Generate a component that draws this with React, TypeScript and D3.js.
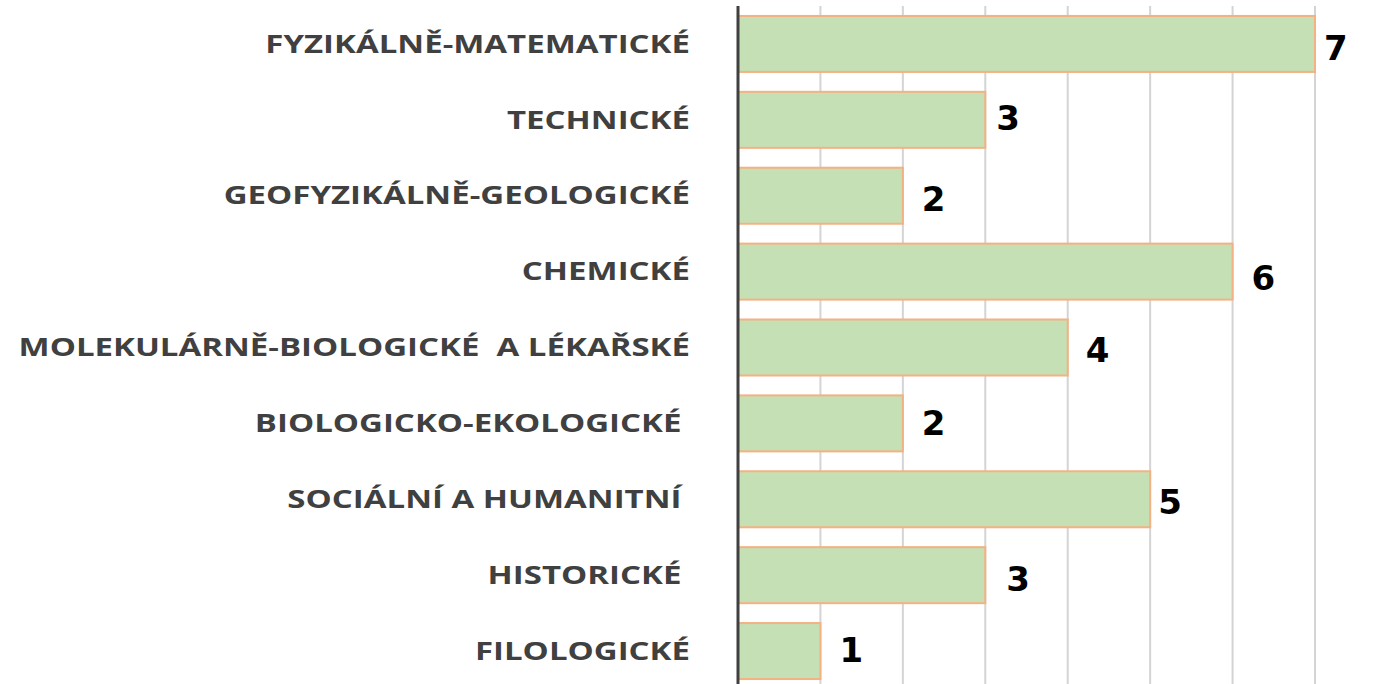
import * as d3 from "d3";

const WIDTH = 1380;
const HEIGHT = 684;

const categories = [
  "FYZIKÁLNĚ-MATEMATICKÉ",
  "TECHNICKÉ",
  "GEOFYZIKÁLNĚ-GEOLOGICKÉ",
  "CHEMICKÉ",
  "MOLEKULÁRNĚ-BIOLOGICKÉ  A LÉKAŘSKÉ",
  "BIOLOGICKO-EKOLOGICKÉ ",
  "SOCIÁLNÍ A HUMANITNÍ ",
  "HISTORICKÉ ",
  "FILOLOGICKÉ",
];
const counts = [7, 3, 2, 6, 4, 2, 5, 3, 1];
const gridTicks = [1, 2, 3, 4, 5, 6, 7];

// hand-placed label nudges in the original (dx, dy)
const labelNudge = [
  [9, 4], [11, -2], [19, 3], [19, 6], [18, 2], [19, -1], [8, 2], [21, 4], [19, -1],
];

const AXIS_X = 738;
const BAR_MAX_X = 1315;
const TOP = 6;
const BOTTOM = 689;
const LABEL_X = 690;
const LABEL_STRETCH = 1.32; // source image is stretched horizontally

export default function App() {
  const x = d3.scaleLinear().domain([0, 7]).range([AXIS_X, BAR_MAX_X]);
  const y = d3
    .scaleBand<string>()
    .domain(categories)
    .range([TOP, BOTTOM])
    .paddingInner(0.262)
    .paddingOuter(0.131);
  const mid = (c: string) => (y(c) ?? 0) + y.bandwidth() / 2;

  return (
    <div style={{ position: "fixed", left: 0, top: 0 }}>
      <svg width={WIDTH} height={HEIGHT} style={{ display: "block", background: "#fff" }}>
        {gridTicks.map((t) => (
          <line key={t} x1={x(t)} x2={x(t)} y1={TOP} y2={HEIGHT} stroke="#d4d4d4" strokeWidth={2} />
        ))}

        {categories.map((c, i) => (
          <rect
            key={c}
            x={x(0)}
            y={y(c)}
            width={x(counts[i]) - x(0)}
            height={y.bandwidth()}
            fill="#c5e0b4"
            stroke="#f4b183"
            strokeWidth={2}
          />
        ))}

        <line x1={AXIS_X} x2={AXIS_X} y1={TOP} y2={HEIGHT} stroke="#404040" strokeWidth={3} />

        {categories.map((c) => (
          <text
            key={`l-${c}`}
            transform={`translate(${LABEL_X},${mid(c)}) scale(${LABEL_STRETCH},1)`}
            dy="0.35em"
            textAnchor="end"
            fill="#404040"
            style={{ fontFamily: "'Open Sans', sans-serif", fontWeight: 700, fontSize: 25, whiteSpace: "pre" }}
          >
            {c}
          </text>
        ))}

        {categories.map((c, i) => (
          <text
            key={`v-${c}`}
            x={x(counts[i]) + labelNudge[i][0]}
            y={mid(c) + labelNudge[i][1]}
            dy="0.36em"
            fill="#000"
            style={{ fontFamily: "'DejaVu Sans', sans-serif", fontWeight: 700, fontSize: 34 }}
          >
            {counts[i]}
          </text>
        ))}
      </svg>
    </div>
  );
}
